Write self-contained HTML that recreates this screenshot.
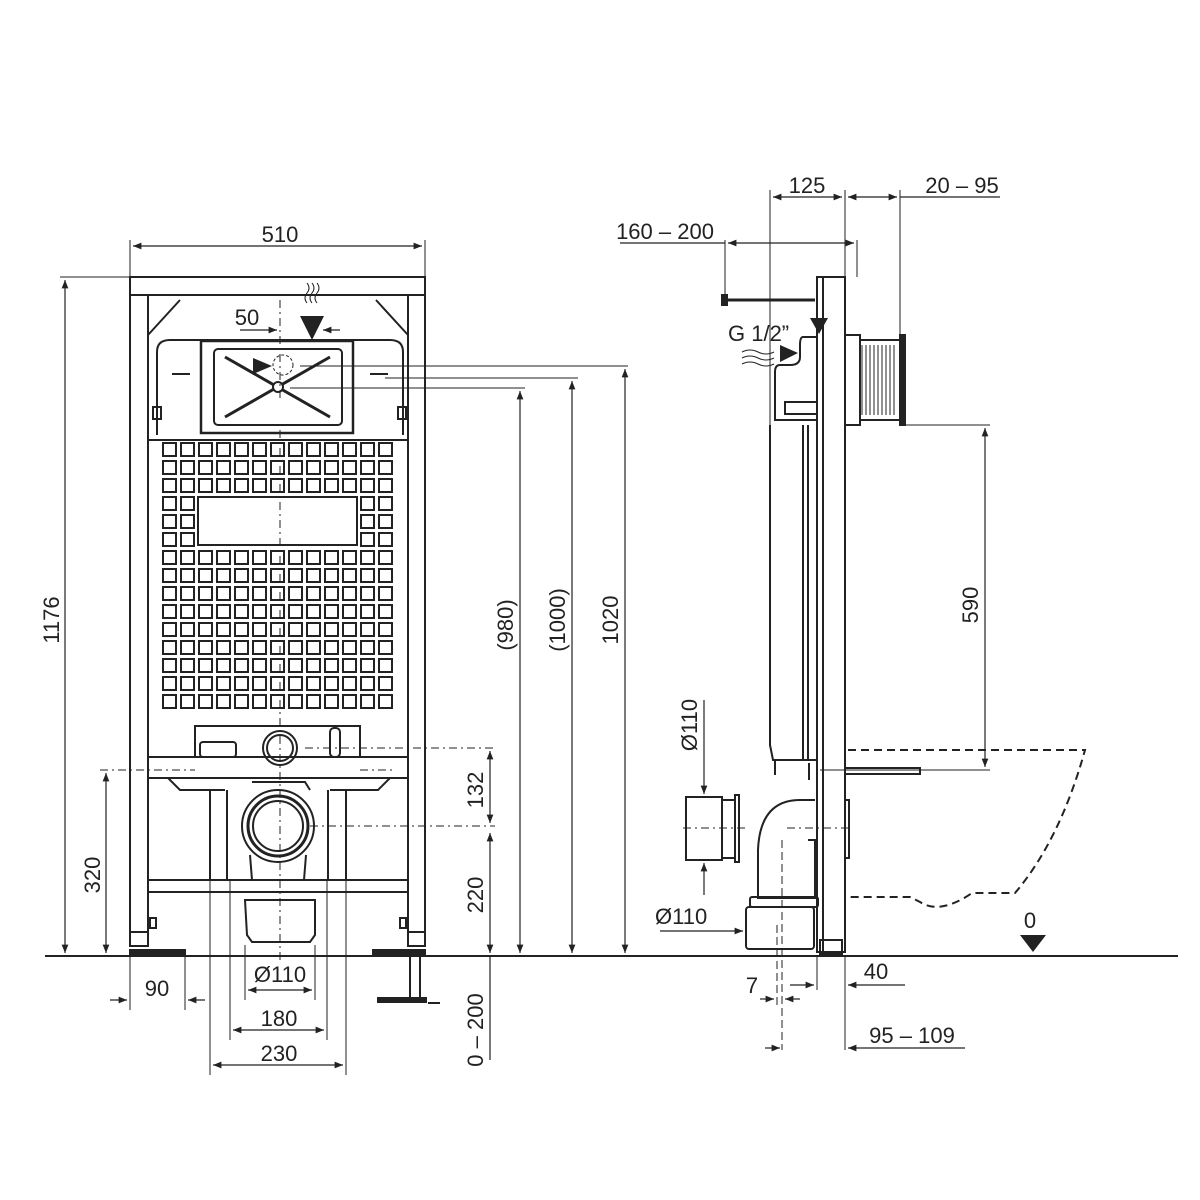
<!DOCTYPE html>
<html><head><meta charset="utf-8"><style>
body{margin:0;background:#fff}
svg{display:block}
text{font-family:"Liberation Sans",sans-serif;font-size:22px;fill:#222}
</style></head><body>
<svg width="1200" height="1200" viewBox="0 0 1200 1200" xmlns="http://www.w3.org/2000/svg">
<defs>
<marker id="a" viewBox="0 0 10 10" refX="10" refY="5" markerWidth="10" markerHeight="7" orient="auto-start-reverse"><path d="M0,1 L10,5 L0,9z" fill="#222"/></marker>
<path id="row" d="M163,0h13v13h-13z M181,0h13v13h-13z M199,0h13v13h-13z M217,0h13v13h-13z M235,0h13v13h-13z M253,0h13v13h-13z M271,0h13v13h-13z M289,0h13v13h-13z M307,0h13v13h-13z M325,0h13v13h-13z M343,0h13v13h-13z M361,0h13v13h-13z M379,0h13v13h-13z"/>
</defs>
<g stroke="#222" fill="none" stroke-width="2">
<rect x="130" y="277" width="295" height="18"/>
<line x1="130" y1="295" x2="130" y2="940"/><line x1="148" y1="295" x2="148" y2="940"/>
<line x1="408" y1="295" x2="408" y2="940"/><line x1="425" y1="295" x2="425" y2="940"/>
<line x1="148" y1="440" x2="408" y2="440"/>
<path d="M148,335 L180,300 M408,335 L376,300"/>
<path d="M157,435 L157,352 Q157,340 170,340 L390,340 Q403,340 403,352 L403,435"/>
<rect x="201" y="341" width="152" height="92" stroke-width="2.5"/>
<rect x="214" y="349" width="128" height="76" rx="4"/>
<path d="M225,357 L330,417 M330,357 L225,417" stroke-width="3"/>
<circle cx="278" cy="387" r="5" fill="#fff"/>
<circle cx="283" cy="365" r="10" stroke-dasharray="3 2" stroke-width="1"/>
<path d="M172,374 h18 M370,374 h18" />
<rect x="153" y="407" width="8" height="12"/><rect x="398" y="407" width="8" height="12"/>
</g>
<g stroke="#222" fill="none" stroke-width="2">
<use href="#row" y="443"/><use href="#row" y="461"/><use href="#row" y="479"/>
<path d="M163,497h13v13h-13z M181,497h13v13h-13z M361,497h13v13h-13z M379,497h13v13h-13z
M163,515h13v13h-13z M181,515h13v13h-13z M361,515h13v13h-13z M379,515h13v13h-13z
M163,533h13v13h-13z M181,533h13v13h-13z M361,533h13v13h-13z M379,533h13v13h-13z"/>
<rect x="198" y="497" width="159" height="48"/>
<use href="#row" y="551"/><use href="#row" y="569"/><use href="#row" y="587"/><use href="#row" y="605"/><use href="#row" y="623"/><use href="#row" y="641"/><use href="#row" y="659"/><use href="#row" y="677"/><use href="#row" y="695"/>
</g>
<g stroke="#222" fill="none" stroke-width="2">
<path d="M195,757 V726 H360 V757"/>
<rect x="200" y="742" width="36" height="15" rx="3"/>
<rect x="330" y="728" width="10" height="29" rx="4"/>
<circle cx="280" cy="748" r="17"/><circle cx="280" cy="748" r="13"/>
<rect x="148" y="757" width="260" height="21"/>
<path d="M168,778 L180,790 H225 M390,778 L378,790 H330"/>
<line x1="210" y1="790" x2="210" y2="880"/><line x1="227" y1="790" x2="227" y2="880"/>
<line x1="328" y1="790" x2="328" y2="880"/><line x1="346" y1="790" x2="346" y2="880"/>
<circle cx="278" cy="826" r="36"/><circle cx="278" cy="826" r="30" stroke-width="3"/><circle cx="278" cy="826" r="25"/>
<path d="M250,855 L252,880 M306,855 L304,880"/>
<path d="M252,782 H305 L310,790"/>
<rect x="148" y="880" width="260" height="12"/>
<path d="M245,900 H315 V935 L310,942 H252 L247,935 Z"/>
<rect x="130" y="932" width="18" height="14"/><rect x="408" y="932" width="17" height="14"/>
<rect x="150" y="918" width="6" height="10"/><rect x="400" y="918" width="6" height="10"/>
<rect x="130" y="950" width="55" height="5" fill="#222"/>
<rect x="373" y="950" width="52" height="5" fill="#222"/>
<path d="M410,956 V1000 M420,956 V1000 M378,1000 H425" />
<rect x="378" y="998" width="48" height="4" fill="#222"/>
<line x1="428" y1="1003" x2="440" y2="1003"/>
</g>
<g stroke="#222" stroke-width="1" fill="none">
<path d="M280,300 V400 M280,430 V960" stroke-dasharray="8 4 2 4"/>
<path d="M300,366 H628 M385,378 H578 M290,388 H525"/>
<path d="M305,748 H495 M310,826 H495 M100,770 H195 M360,770 H395" stroke-dasharray="8 4 2 4"/>
<path d="M130,950 V1010 M185,950 V1010 M245,945 V1000 M315,945 V1000 M230,880 V1040 M327,880 V1040 M210,880 V1075 M346,880 V1075"/>
<path d="M60,277 H130"/>
<path d="M130,240 V277 M425,240 V277"/>
</g>
<g stroke="#222" stroke-width="1.2" fill="none">
<line x1="133" y1="246" x2="422" y2="246" marker-start="url(#a)" marker-end="url(#a)"/>
<line x1="65" y1="280" x2="65" y2="953" marker-start="url(#a)" marker-end="url(#a)"/>
<line x1="106" y1="773" x2="106" y2="953" marker-start="url(#a)" marker-end="url(#a)"/>
<line x1="110" y1="1000" x2="127" y2="1000" marker-end="url(#a)"/><line x1="205" y1="1000" x2="188" y2="1000" marker-end="url(#a)"/>
<line x1="248" y1="990" x2="312" y2="990" marker-start="url(#a)" marker-end="url(#a)"/>
<line x1="233" y1="1030" x2="324" y2="1030" marker-start="url(#a)" marker-end="url(#a)"/>
<line x1="213" y1="1065" x2="343" y2="1065" marker-start="url(#a)" marker-end="url(#a)"/>
<line x1="490" y1="751" x2="490" y2="823" marker-start="url(#a)" marker-end="url(#a)"/>
<line x1="490" y1="833" x2="490" y2="953" marker-start="url(#a)" marker-end="url(#a)"/>
<line x1="490" y1="956" x2="490" y2="1060"/>
<line x1="520" y1="391" x2="520" y2="953" marker-start="url(#a)" marker-end="url(#a)"/>
<line x1="572" y1="381" x2="572" y2="953" marker-start="url(#a)" marker-end="url(#a)"/>
<line x1="625" y1="369" x2="625" y2="953" marker-start="url(#a)" marker-end="url(#a)"/>
<line x1="240" y1="330" x2="277" y2="330" marker-end="url(#a)"/><line x1="340" y1="330" x2="323" y2="330" marker-end="url(#a)"/>
</g>
<path d="M300,316 H324 L312,340Z" fill="#222"/>
<path d="M253,358 L272,366 L253,374Z" fill="#222"/>
<path d="M307,283 q4,5 0,10 q-4,5 0,10 M312,283 q4,5 0,10 q-4,5 0,10 M317,283 q4,5 0,10 q-4,5 0,10" stroke="#222" fill="none" stroke-width="1"/>
<line x1="45" y1="956" x2="1178" y2="956" stroke="#222" stroke-width="2"/>

<g stroke="#222" fill="none" stroke-width="2">
<rect x="817" y="277" width="28" height="675"/>
<line x1="823" y1="277" x2="823" y2="952"/>
<rect x="845" y="335" width="15" height="90"/>
<rect x="860" y="340" width="40" height="80"/>
<path d="M862,345 V415 M866,345 V415 M870,345 V415 M874,345 V415 M878,345 V415 M882,345 V415 M886,345 V415 M890,345 V415 M894,345 V415" stroke-width="1"/>
<rect x="900" y="335" width="5" height="90" fill="#222"/>
<path d="M725,300 H815" stroke-width="3"/><rect x="722" y="295" width="5" height="10" fill="#222"/>
<path d="M817,337 H803 Q800,337 800,345 V357 Q800,365 790,365 H780 Q775,365 775,372 V420 H817"/>
<rect x="785" y="402" width="32" height="12"/>
<path d="M770,425 V745 L773,760 H817 M803,425 V760 M808,425 V760"/>
<line x1="775" y1="760" x2="775" y2="775"/><line x1="809" y1="763" x2="809" y2="780"/>
<path d="M815,800 H800 Q760,800 758,850 V898 H815 V840 H808"/>
<rect x="750" y="897" width="68" height="10" rx="2"/>
<rect x="746" y="907" width="68" height="42" rx="3"/>
<rect x="686" y="797" width="36" height="63"/>
<path d="M722,800 H735 V858 H722 M735,795 V862 H739 V795Z"/>
<rect x="845" y="768" width="75" height="6"/>
<rect x="845" y="800" width="4" height="58"/>
<rect x="820" y="940" width="22" height="14"/>
</g>
<g stroke="#222" stroke-width="2" fill="none" stroke-dasharray="8 5">
<path d="M848,750 H1085 Q1060,840 1015,893 H972 Q940,915 920,902 L910,897 H848"/>
</g>
<path d="M1020,935 H1046 L1033,952Z" fill="#222"/>
<path d="M810,318 H828 L819,334Z" fill="#222"/>
<path d="M780,345 L798,353 L780,362Z" fill="#222"/>
<path d="M742,352 q8,-4 16,0 t16,0 M742,358 q8,-4 16,0 t16,0 M742,364 q8,-4 16,0 t16,0" stroke="#222" fill="none" stroke-width="1"/>
<g stroke="#222" stroke-width="1" fill="none">
<path d="M770,190 V425 M845,190 V277 M900,190 V335 M725,240 V300 M857,240 V277"/>
<path d="M905,425 H990 M820,770 H990"/>
<path d="M683,828 H745 M787,828 H852" stroke-dasharray="8 4 2 4"/>
<path d="M782,840 V1050 M777,925 V1005" stroke-dasharray="8 4"/>
<path d="M817,956 V990 M845,956 V1050"/>
</g>
<g stroke="#222" stroke-width="1.2" fill="none">
<line x1="773" y1="197" x2="842" y2="197" marker-start="url(#a)" marker-end="url(#a)"/>
<line x1="848" y1="197" x2="897" y2="197" marker-start="url(#a)" marker-end="url(#a)"/><line x1="900" y1="197" x2="1000" y2="197"/>
<line x1="620" y1="243" x2="725" y2="243"/>
<line x1="728" y1="243" x2="854" y2="243" marker-start="url(#a)" marker-end="url(#a)"/>
<line x1="985" y1="428" x2="985" y2="767" marker-start="url(#a)" marker-end="url(#a)"/>
<line x1="704" y1="700" x2="704" y2="794" marker-end="url(#a)"/>
<line x1="704" y1="895" x2="704" y2="863" marker-end="url(#a)"/>
<line x1="660" y1="931" x2="743" y2="931" marker-end="url(#a)"/>
<line x1="760" y1="999" x2="774" y2="999" marker-end="url(#a)"/><line x1="800" y1="999" x2="785" y2="999" marker-end="url(#a)"/>
<line x1="790" y1="985" x2="814" y2="985" marker-end="url(#a)"/><line x1="905" y1="985" x2="848" y2="985" marker-end="url(#a)"/>
<line x1="765" y1="1048" x2="780" y2="1048" marker-end="url(#a)"/><line x1="965" y1="1048" x2="848" y2="1048" marker-end="url(#a)"/>
</g>
<text x="280" y="242" text-anchor="middle">510</text>
<text x="247" y="325" text-anchor="middle">50</text>
<text transform="translate(59,620) rotate(-90)" text-anchor="middle">1176</text>
<text transform="translate(100,875) rotate(-90)" text-anchor="middle">320</text>
<text x="157" y="996" text-anchor="middle">90</text>
<text x="280" y="982" text-anchor="middle">Ø110</text>
<text x="279" y="1026" text-anchor="middle">180</text>
<text x="279" y="1061" text-anchor="middle">230</text>
<text transform="translate(483,790) rotate(-90)" text-anchor="middle">132</text>
<text transform="translate(483,895) rotate(-90)" text-anchor="middle">220</text>
<text transform="translate(483,1030) rotate(-90)" text-anchor="middle">0 – 200</text>
<text transform="translate(513,625) rotate(-90)" text-anchor="middle">(980)</text>
<text transform="translate(565,620) rotate(-90)" text-anchor="middle">(1000)</text>
<text transform="translate(618,620) rotate(-90)" text-anchor="middle">1020</text>
<text x="807" y="193" text-anchor="middle">125</text>
<text x="962" y="193" text-anchor="middle">20 – 95</text>
<text x="665" y="239" text-anchor="middle">160 – 200</text>
<text x="728" y="341">G 1/2”</text>
<text transform="translate(978,605) rotate(-90)" text-anchor="middle">590</text>
<text transform="translate(697,725) rotate(-90)" text-anchor="middle">Ø110</text>
<text x="655" y="924">Ø110</text>
<text x="1030" y="928" text-anchor="middle">0</text>
<text x="752" y="993" text-anchor="middle">7</text>
<text x="876" y="979" text-anchor="middle">40</text>
<text x="912" y="1043" text-anchor="middle">95 – 109</text>
</svg>
</body></html>
